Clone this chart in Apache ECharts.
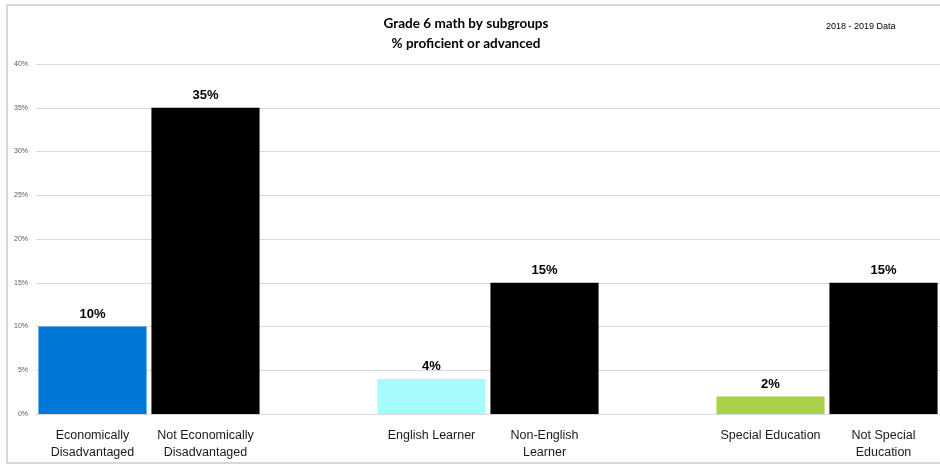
<!DOCTYPE html>
<html>
<head>
<meta charset="utf-8">
<script src="https://cdn.jsdelivr.net/npm/echarts@6/dist/echarts.min.js"></script>
<style>
  html, body { margin: 0; padding: 0; background: #fff; }
  #chart { width: 940px; height: 466px; }
</style>
</head>
<body>
<div id="chart"></div>
<script>
// Subgroup names; empty entries leave a gap between the three pairs.
const categories = [
  'Economically\nDisadvantaged',
  'Not Economically\nDisadvantaged',
  '',
  'English Learner',
  'Non-English\nLearner',
  '',
  'Special Education',
  'Not Special\nEducation'
];
// Percent proficient or advanced.
const values = [10, 35, null, 4, 15, null, 2, 15];
const barColors = ['#0078d7', '#000000', null, '#a6fbfb', '#000000', null, '#a9d14a', '#000000'];

const yTicks = { min: 0, max: 40, interval: 5 };
const FONT = 'Liberation Sans, Arial, sans-serif';
const TITLE_FONT = 'Lato, Liberation Sans, sans-serif';

const chart = echarts.init(document.getElementById('chart'), null, { renderer: 'canvas' });

chart.setOption({
  animation: false,
  backgroundColor: '#fff',
  graphic: [
    {
      type: 'rect',
      shape: { x: 7, y: 5, width: 945, height: 458 },
      style: { fill: 'none', stroke: '#d9d9d9', lineWidth: 2 },
      silent: true
    },
    {
      type: 'text',
      x: 466,
      y: 14,
      style: {
        text: 'Grade 6 math by subgroups\n% proficient or advanced',
        font: 'bold 13.5px ' + TITLE_FONT,
        fill: '#000',
        align: 'center',
        lineHeight: 20
      }
    },
    {
      type: 'text',
      x: 826,
      y: 22,
      style: { text: '2018 - 2019 Data', font: '9px ' + FONT, fill: '#000' }
    }
  ],
  grid: { left: 36, top: 64, width: 907, height: 350, containLabel: false },
  xAxis: {
    type: 'category',
    data: categories,
    axisLine: { show: true, lineStyle: { color: '#d9d9d9', width: 1 } },
    axisTick: { show: false },
    axisLabel: {
      interval: 0,
      color: '#1a1a1a',
      fontFamily: FONT,
      fontSize: 12.5,
      lineHeight: 17,
      margin: 13
    }
  },
  yAxis: {
    type: 'value',
    min: yTicks.min,
    max: yTicks.max,
    interval: yTicks.interval,
    axisLine: { show: false },
    axisTick: { show: false },
    axisLabel: {
      formatter: '{value}%',
      color: '#595959',
      fontFamily: FONT,
      fontSize: 7,
      margin: 8
    },
    splitLine: { lineStyle: { color: '#d9d9d9', width: 1 } }
  },
  series: [{
    type: 'bar',
    barCategoryGap: '4.3%',
    data: values.map((v, i) => v == null ? '-' : { value: v, itemStyle: { color: barColors[i] } }),
    label: {
      show: true,
      position: 'top',
      distance: 6,
      formatter: '{c}%',
      color: '#000',
      fontFamily: FONT,
      fontWeight: 'bold',
      fontSize: 13
    }
  }]
});
</script>
</body>
</html>
